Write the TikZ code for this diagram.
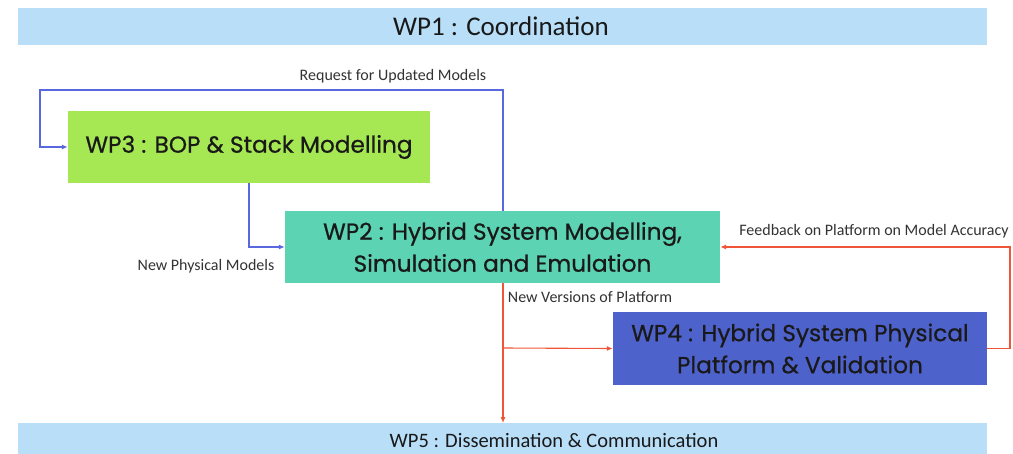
\documentclass[tikz,border=0pt]{standalone}
\usepackage{fontspec}
\setmainfont{Carlito}
\newfontfamily\boxfont{Poppins}[FakeBold=0.6]
\usetikzlibrary{arrows.meta}
\definecolor{barblue}{HTML}{B8DEF8}
\definecolor{wpgreen}{HTML}{A6E853}
\definecolor{wpteal}{HTML}{5CD3B3}
\definecolor{wpblue}{HTML}{4E62CC}
\definecolor{lnblue}{HTML}{5A68E0}
\definecolor{lnred}{HTML}{F0553A}
\definecolor{lbl}{HTML}{333333}
\tikzset{
  bar/.style={fill=barblue, draw=none, inner sep=0pt},
  bartext/.style={inner sep=0pt, text=black!90},
  wpbox/.style={draw=none, inner sep=0pt, align=center, font=\boxfont\fontsize{23.2}{32}\selectfont, text=black!90},
  lab/.style={font=\fontsize{16}{18}\selectfont, text=lbl, inner sep=0pt},
  bl/.style={draw=lnblue, line width=1.1pt, -{Latex[length=6pt,width=5pt]}},
  rd/.style={draw=lnred, line width=1.1pt, -{Latex[length=6pt,width=5pt]}},
}
\begin{document}
\begin{tikzpicture}[x=1pt,y=-1pt]
\useasboundingbox (0,0) rectangle (1013,453);
\fill[white] (0,0) rectangle (1013,453);
\node[bar, minimum width=969pt, minimum height=37pt] (wp1) at (502.5,26.5) {};
\node[bartext, font=\fontsize{27}{30}\selectfont] (wp1t) at (501,26) {WP1 : Coordination};
\node[bar, minimum width=969pt, minimum height=37pt, anchor=north] (wp5) at (502.5,423) {};
\node[bartext, font=\fontsize{20.5}{24}\selectfont] (wp5t) at (554,440) {WP5 : Dissemination \& Communication};
\node[wpbox, fill=wpgreen, minimum width=362pt, minimum height=72pt] (wp3) at (249,147) {WP3 : BOP \& Stack Modelling};
\node[wpbox, fill=wpteal, minimum width=435pt, minimum height=72pt] (wp2) at (502.5,247) {WP2 : Hybrid System Modelling,\\Simulation and Emulation};
\node[wpbox, fill=wpblue, minimum width=374pt, minimum height=73pt] (wp4) at (800,348.5) {WP4 : Hybrid System Physical\\Platform \& Validation};
\coordinate (c1) at (503,90);
\coordinate (c2) at (40,90);
\coordinate (c3) at (40,147);
\draw[bl] (wp2.north -| c1) -- (c1) -- (c2) -- (c3) -- (wp3.west);
\node[lab] (l1) at (393,76) {Request for Updated Models};
\coordinate (c4) at (249,247);
\draw[bl] (wp3.south) -- (c4) -- (wp2.west);
\node[lab] (l2) at (206,266) {New Physical Models};
\coordinate (c5) at (503,348);
\draw[rd] (wp2.south -| c5) -- (wp5.north -| c5);
\draw[rd] (c5) -- (wp4.west);
\node[lab] (l3) at (590,297) {New Versions of Platform};
\coordinate (c6) at (1010,348.5);
\coordinate (c7) at (1010,247);
\draw[rd] (wp4.east) -- (c6) -- (c7) -- (wp2.east);
\node[lab] (l4) at (874,231) {Feedback on Platform on Model Accuracy};
\end{tikzpicture}
\end{document}
